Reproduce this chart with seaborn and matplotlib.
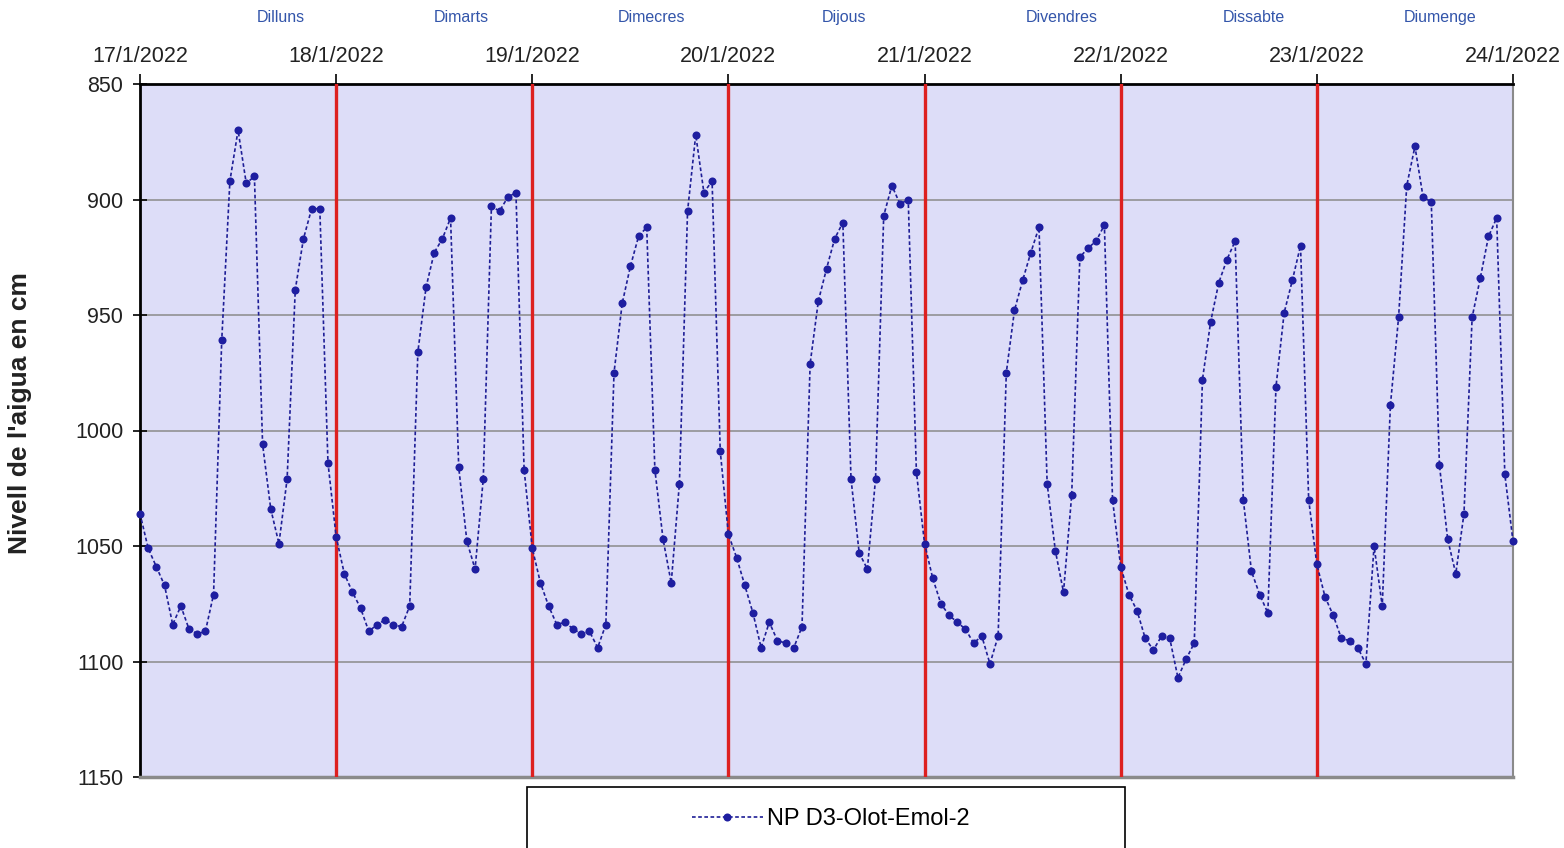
import matplotlib
matplotlib.use("Agg")
import matplotlib.pyplot as plt
import matplotlib.dates as mdates
from matplotlib.patches import Rectangle
from matplotlib.lines import Line2D
import seaborn as sns
import pandas as pd

# ---------------- data ----------------
serie_name = "NP D3-Olot-Emol-2"
date_labels = ["17/1/2022", "18/1/2022", "19/1/2022", "20/1/2022",
               "21/1/2022", "22/1/2022", "23/1/2022", "24/1/2022"]
dies = ["Dilluns", "Dimarts", "Dimecres", "Dijous", "Divendres", "Dissabte", "Diumenge"]

# hourly water level (cm), 00h .. 23h of each day
dilluns = [1036, 1051, 1059, 1067, 1084, 1076, 1086, 1088, 1087, 1071, 961, 892,
           870, 893, 890, 1006, 1034, 1049, 1021, 939, 917, 904, 904, 1014]
dimarts = [1046, 1062, 1070, 1077, 1087, 1084, 1082, 1084, 1085, 1076, 966, 938,
           923, 917, 908, 1016, 1048, 1060, 1021, 903, 905, 899, 897, 1017]
dimecres = [1051, 1066, 1076, 1084, 1083, 1086, 1088, 1087, 1094, 1084, 975, 945,
            929, 916, 912, 1017, 1047, 1066, 1023, 905, 872, 897, 892, 1009]
dijous = [1045, 1055, 1067, 1079, 1094, 1083, 1091, 1092, 1094, 1085, 971, 944,
          930, 917, 910, 1021, 1053, 1060, 1021, 907, 894, 902, 900, 1018]
divendres = [1049, 1064, 1075, 1080, 1083, 1086, 1092, 1089, 1101, 1089, 975, 948,
             935, 923, 912, 1023, 1052, 1070, 1028, 925, 921, 918, 911, 1030]
dissabte = [1059, 1071, 1078, 1090, 1095, 1089, 1090, 1107, 1099, 1092, 978, 953,
            936, 926, 918, 1030, 1061, 1071, 1079, 981, 949, 935, 920, 1030]
diumenge = [1058, 1072, 1080, 1090, 1091, 1094, 1101, 1050, 1076, 989, 951, 894,
            877, 899, 901, 1015, 1047, 1062, 1036, 951, 934, 916, 908, 1019]
final_value = [1048]  # 24/1/2022 00h

levels = dilluns + dimarts + dimecres + dijous + divendres + dissabte + diumenge + final_value
tick_dates = pd.to_datetime(date_labels, format="%d/%m/%Y")
times = pd.date_range(start=tick_dates[0], periods=len(levels), freq="h")
df = pd.DataFrame({"Hora": times, "Nivell": levels})

# ---------------- style ----------------
plt.rcParams["font.family"] = ["Liberation Sans", "DejaVu Sans"]

W, H = 1564, 848
fig = plt.figure(figsize=(W / 100, H / 100), dpi=100)
left, right, top, bottom = 140, 1513, 84, 777
ax = fig.add_axes([left / W, 1 - bottom / H, (right - left) / W, (bottom - top) / H])
ax.set_facecolor("#DDDDF8")

line_color = "#1E1E96"
mk_color = "#1E1EA0"
dash = (0, (2.2, 1.5))
sns.lineplot(data=df, x="Hora", y="Nivell", ax=ax, color=line_color,
             linestyle=dash, linewidth=1.2, marker="o", markersize=5.8,
             markeredgewidth=0, markerfacecolor=mk_color, legend=False, zorder=4)
for ln in ax.get_lines():
    ln.set_clip_on(False)

# red day separators
for d in tick_dates[1:-1]:
    ax.axvline(d, color="#DD2020", lw=2.4, zorder=3)

ax.set_ylim(1150, 850)
ax.set_yticks(list(range(850, 1151, 50)))
ax.set_xlim(times[0], times[-1])
ax.xaxis.tick_top()
ax.set_xticks(tick_dates)
ax.set_xticklabels(date_labels)
ax.set_xlabel("")

ax.yaxis.grid(True, color="#8A8A8A", lw=1.1)
ax.xaxis.grid(False)
ax.set_axisbelow(True)

for s in ["top", "left"]:
    ax.spines[s].set_color("black")
    ax.spines[s].set_linewidth(2)
ax.spines["right"].set_color("#8A8A8A")
ax.spines["right"].set_linewidth(1.5)
ax.spines["bottom"].set_color("#8A8A8A")
ax.spines["bottom"].set_linewidth(2.5)

ax.tick_params(axis="y", direction="inout", length=10, width=1.2,
               labelsize=15.5, pad=7, labelcolor="#222222")
ax.tick_params(axis="x", direction="out", length=7, width=1.2,
               labelsize=15.5, pad=5, labelcolor="#222222")

ax.set_ylabel("Nivell de l'aigua en cm", fontsize=19, fontweight="bold", color="#222222")
ax.yaxis.label.set_verticalalignment("center")
ax.yaxis.set_label_coords(-0.0874, 0.525)

# day names above the date labels
name_frac = [0.72, 0.64, 0.61, 0.59, 0.70, 0.68, 0.63]
for i, name in enumerate(dies):
    xpos = mdates.date2num(tick_dates[i]) + name_frac[i]
    ax.text(xpos, (bottom - 18) / (bottom - top), name, transform=ax.get_xaxis_transform(),
            ha="center", va="center", fontsize=11.5, color="#3355AA")

# legend box (runs off the bottom edge)
fig.patches.append(Rectangle((527 / W, -0.05), (1125 - 527) / W, (1 - 787 / H) + 0.05,
                             transform=fig.transFigure, fill=False,
                             edgecolor="black", lw=1.2))
handle = Line2D([], [], color=line_color, linestyle=dash, linewidth=1.2,
                marker="o", markersize=5.8, markeredgewidth=0, markerfacecolor=mk_color)
fig.legend([handle], [serie_name], loc="center", bbox_to_anchor=(831 / W, 1 - 819 / H),
           frameon=False, fontsize=17, handlelength=3.0, handletextpad=0.2)

fig.savefig("out.png", dpi=100)
